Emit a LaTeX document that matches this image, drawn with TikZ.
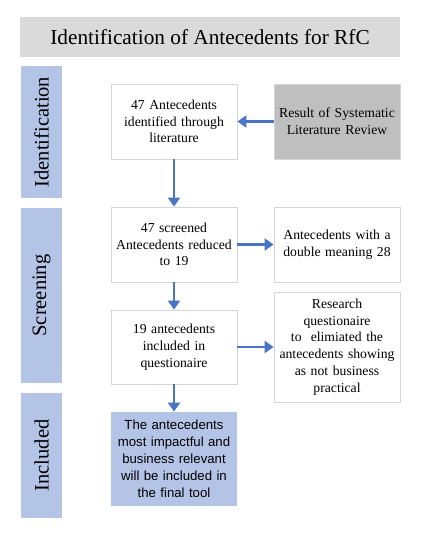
\documentclass[tikz,border=0pt]{standalone}
\usepackage{fontspec}
\setmainfont{Liberation Serif}
\setsansfont{Liberation Sans}
\usepackage{xcolor}
\definecolor{rfcgrey}{HTML}{DADADA}
\definecolor{rfcdark}{HTML}{BFBFBF}
\definecolor{rfcline}{HTML}{D6D6D6}
\definecolor{rfcblue}{HTML}{B4C4E6}
\definecolor{rfcarrow}{HTML}{4A74C4}
\usepackage{tikz}
\usetikzlibrary{arrows.meta,positioning,calc}

\begin{document}
\begin{tikzpicture}[x=1pt,y=-1pt,font=\fontsize{13.7}{16.8}\selectfont,
 box/.style={draw=rfcline,fill=white,line width=0.8pt,inner sep=2pt,%
   text width=122pt,minimum width=126pt,minimum height=75pt,align=center},
 phase/.style={fill=rfcblue,rotate=90,minimum height=41pt,inner sep=0pt,%
   font=\fontsize{20.5}{22}\selectfont},
 arr/.style={-{Triangle[length=9pt,width=12pt]},draw=rfcarrow,line width=2.2pt}]
\useasboundingbox (0,0) rectangle (446,542);
\node[fill=rfcgrey,minimum width=380pt,minimum height=40pt,%
  font=\fontsize{21.3}{24}\selectfont] (title) at (210,37)
  {Identification of Antecedents for RfC};
% phases on the left
\node[phase,minimum width=132pt] (phaseid) at (41.5,132) {Identification};
\node[phase,minimum width=175pt] (phasescr) at (41.5,295.5) {Screening};
\node[phase,minimum width=125pt] (phaseinc) at (41.5,455.5) {Included};
% main flow
\node[box] (found) at (174,121.5) {47 Antecedents\\identified through\\literature};
\node[box,fill=rfcdark] (slr) at (337,121.5) {Result of Systematic\\Literature Review};
\node[box] (screened) at (174,244.5) {47 screened\\Antecedents reduced\\to 19};
\node[box] (double) at (337,244.5) {Antecedents with a\\double meaning 28};
\node[box,minimum height=74pt] (quest) at (174,347) {19 antecedents\\included in\\questionaire};
\node[box,minimum height=110pt] (survey) at (337,347)
  {Research\\questionaire\\to~ elimiated the\\antecedents showing\\as not business\\practical};
\node[box,draw=none,fill=rfcblue,minimum height=94pt,%
  font=\sffamily\fontsize{13.2}{17}\selectfont] (final) at (174,459)
  {The antecedents\\most impactful and\\business relevant\\will be included in\\the final tool};
\draw[arr] (slr)--(found);
\draw[arr] (found)--(screened);
\draw[arr] (screened)--(double);
\draw[arr] (screened)--(quest);
\draw[arr] (quest)--(survey);
\draw[arr] (quest)--(final);
\end{tikzpicture}
\end{document}
